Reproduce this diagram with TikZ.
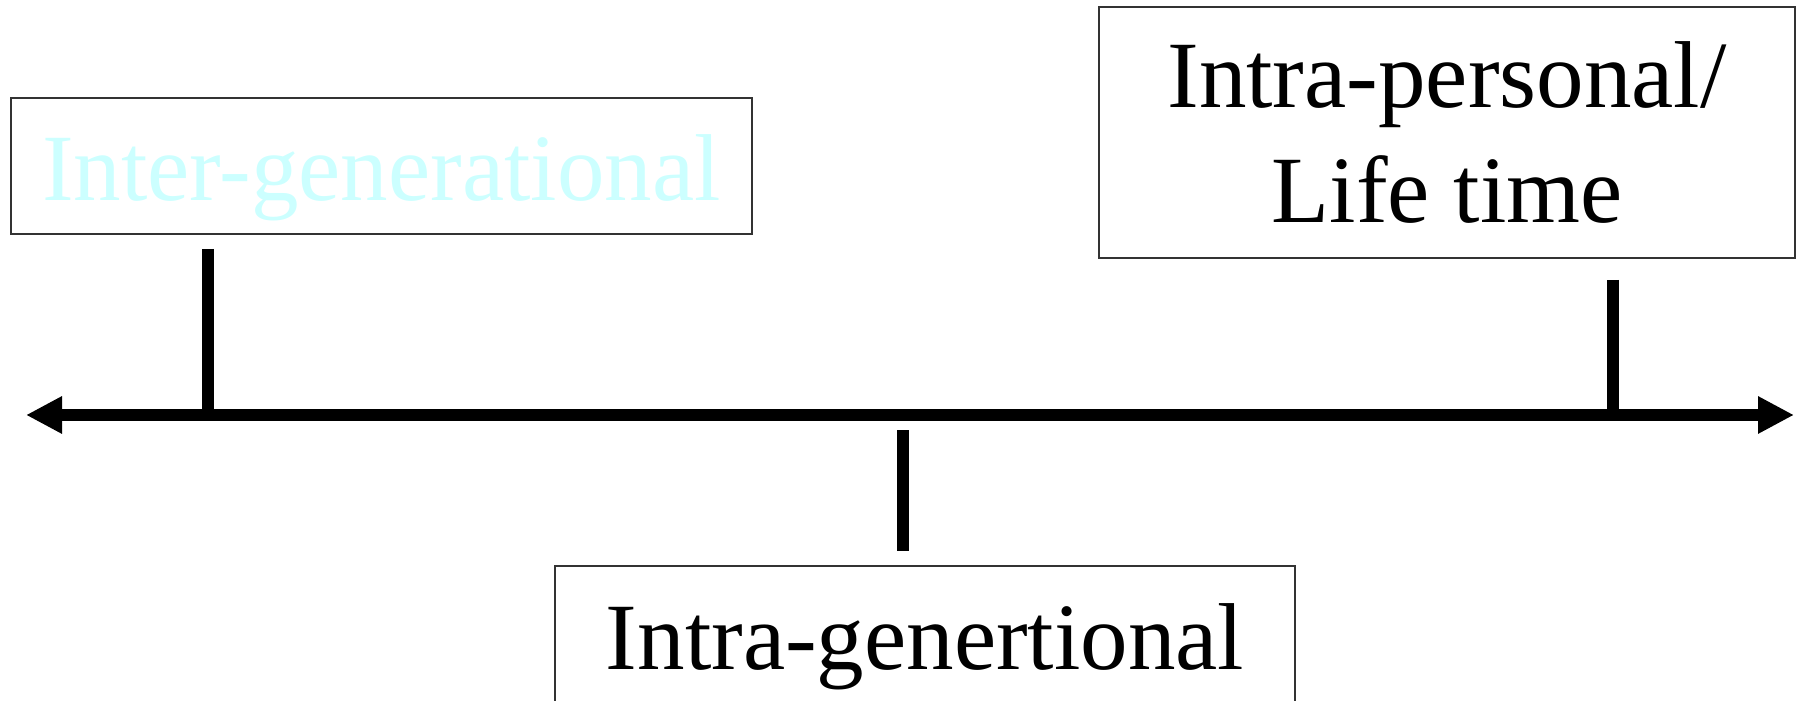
\documentclass[tikz,border=0pt]{standalone}
\usepackage{fontspec}
\setmainfont{Liberation Serif}
\usepackage{xcolor}
\usetikzlibrary{arrows.meta}
\definecolor{paleaqua}{HTML}{CCFFFF}

\begin{document}
\begin{tikzpicture}[x=1pt,y=1pt,
  box/.style={draw=black!80,line width=1.5pt,inner sep=0pt,align=center,font=\fontsize{95}{115}\selectfont},
  oneline/.style={text height=70pt,text depth=0pt},
  bar/.style={line width=12pt}]
\clip (0,0) rectangle (1805,701);
% time axis
\coordinate (lend) at (26,286);
\coordinate (rend) at (1794,286);
\draw[bar,{Triangle[length=36pt,width=35pt]}-{Triangle[length=36pt,width=35pt]}] (lend)--(rend);
% ticks
\foreach \x/\a/\b in {207.5/452/286,1613/421/286,902.5/270.5/149.5}
  \draw[bar] (\x,\a)--(\x,\b);
% labels
\node[box,oneline,minimum width=741pt,minimum height=136pt,text=paleaqua] (inter) at (381.3,535) {Inter-generational};
\node[box,minimum width=696pt,minimum height=251pt] (intrap) at (1447,568.5) {Intra-personal/\\Life time};
\node[box,oneline,minimum width=740pt,minimum height=138pt] (intrag) at (925,66) {Intra-genertional};
\end{tikzpicture}
\end{document}
